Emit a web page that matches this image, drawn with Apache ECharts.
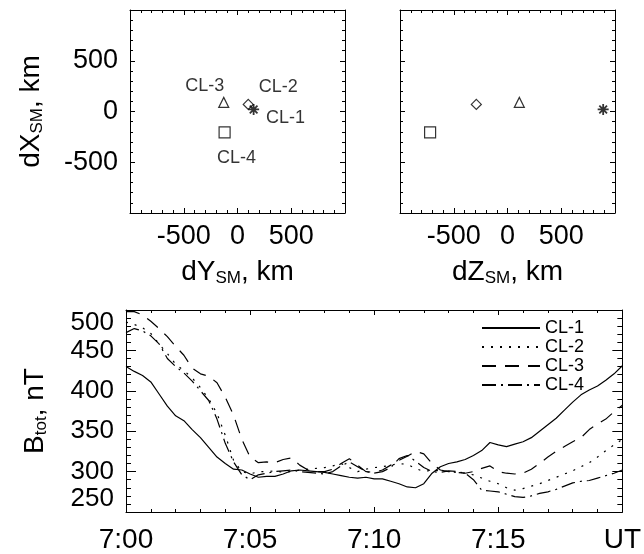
<!DOCTYPE html>
<html><head><meta charset="utf-8">
<script src="https://cdn.jsdelivr.net/npm/echarts@6/dist/echarts.min.js"></script>
<style>html,body{margin:0;padding:0;background:#fff}#c{width:644px;height:554px}</style>
</head><body><div id="c"></div>
<script>
// ---- data ----
const probes = ['CL-1', 'CL-2', 'CL-3', 'CL-4'];
const dY = [150, 100, -128, -120];
const dX = [20, 70, 90, -205];
const dZ = [890, -290, 110, -720];
const posTickLabels = ['-500', '0', '500'];
const timeTickLabels = ['7:00', '7:05', '7:10', '7:15', 'UT'];
const seconds = [0,20,40,60,80,100,120,140,160,180,200,220,240,260,280,300,320,340,360,380,400,420,440,460,480,500,520,540,560,580,600,620,640,660,680,700,720,740,760,780,800,820,840,860,880,900,920,940,960,980,1000,1020,1040,1060,1080,1100,1120,1140,1160,1180,1200];
const btotCL1 = [430,424,419,411,396,381,369,363,352,342,330,318,310,303,302,297,293,294,294,297,301,302,301,300,299,297,295,293,292,293,291,291,288,285,281,280,285,298,306,310,312,315,320,326,336,333,331,334,337,342,350,358,366,376,386,395,401,406,413,421,431];
const btotCL2 = [485,482,478,471,458,446,433,425,416,404,390,372,345,314,300,297,300,300,301,299,300,302,303,304,305,307,310,305,300,303,305,306,308,310,309,304,300,302,301,300,299,298,296,292,288,285,280,277,279,282,285,289,293,297,301,306,311,318,326,333,340];
const btotCL3 = [498,498,494,486,477,467,455,444,428,421,418,410,392,370,340,318,311,312,311,315,317,308,302,300,300,303,310,316,308,300,299,302,308,314,319,325,322,310,302,300,299,298,300,304,307,300,298,297,298,303,310,318,325,331,337,342,352,359,365,374,382];
const btotCL4 = [472,477,474,468,458,440,430,422,412,400,388,365,335,312,296,290,296,298,300,301,302,300,299,298,297,300,307,312,306,300,298,300,305,316,320,313,305,300,299,301,300,298,290,277,276,275,272,269,268,270,273,275,278,282,286,288,289,292,295,298,302];

// ---- styles ----
const FONT = '"Liberation Sans", Arial, Helvetica, sans-serif';
const symbols = ['path://M5,0L5,10M0,5L10,5M1.5,1.5L8.5,8.5M1.5,8.5L8.5,1.5', 'diamond', 'triangle', 'rect'];
const symbolSizes = [11, 10, 10, 11];
const symbolBorders = [1.8, 1.2, 1.2, 1.2];
const dashTypes = ['solid', [2, 7], [14, 9], [14, 5, 2, 5]];
const labelCfg = [
  {position: 'right', distance: 6, offset: [0, 9]},
  {position: 'top', distance: 6, offset: [30, 3]},
  {position: 'top', distance: 5, offset: [-19, 3]},
  {position: 'bottom', distance: 7, offset: [12, 4]}
];
const subRich = {
  s: {fontSize: 17, fontFamily: FONT, color: '#000', padding: [13, 0, 0, 0]}
};

function posAxis(extra) {
  return Object.assign({
    type: 'value', min: -1000, max: 1000, interval: 500,
    axisLine: {show: true, onZero: false, lineStyle: {color: '#000', width: 1}},
    axisTick: {show: true, inside: true, length: 5, lineStyle: {color: '#000'}},
    minorTick: {show: true, splitNumber: 5, length: 3, lineStyle: {color: '#000'}},
    splitLine: {show: false},
    axisLabel: {show: false}
  }, extra);
}
function posLabel() {
  return {show: true, fontSize: 27, fontFamily: FONT, color: '#000', margin: 12,
    formatter: v => (Math.abs(v) < 1000 ? posTickLabels[(v + 500) / 500] : '')};
}
const nameStyle = {fontSize: 28, fontFamily: FONT, color: '#000', rich: subRich};

const xAxes = [
  posAxis({gridIndex: 0, position: 'bottom', axisLabel: Object.assign(posLabel(), {margin: 10}),
    name: 'dY{s|SM}, km', nameLocation: 'middle', nameGap: 44, nameTextStyle: nameStyle}),
  posAxis({gridIndex: 0, position: 'top'}),
  posAxis({gridIndex: 1, position: 'bottom', axisLabel: Object.assign(posLabel(), {margin: 10}),
    name: 'dZ{s|SM}, km', nameLocation: 'middle', nameGap: 44, nameTextStyle: nameStyle}),
  posAxis({gridIndex: 1, position: 'top'}),
  {
    type: 'value', gridIndex: 2, position: 'bottom', min: 0, max: 1200, interval: 300,
    axisLine: {show: true, onZero: false, lineStyle: {color: '#000'}},
    axisTick: {show: true, inside: true, length: 5, lineStyle: {color: '#000'}},
    minorTick: {show: true, splitNumber: 5, length: 3, lineStyle: {color: '#000'}},
    splitLine: {show: false},
    axisLabel: {show: true, fontSize: 28, fontFamily: FONT, color: '#000', margin: 14,
      formatter: v => timeTickLabels[Math.round(v / 300)]}
  },
  {
    type: 'value', gridIndex: 2, position: 'top', min: 0, max: 1200, interval: 300,
    axisLine: {show: true, onZero: false, lineStyle: {color: '#000'}},
    axisTick: {show: true, inside: true, length: 5, lineStyle: {color: '#000'}},
    minorTick: {show: true, splitNumber: 5, length: 3, lineStyle: {color: '#000'}},
    splitLine: {show: false}, axisLabel: {show: false}
  }
];
const yAxes = [
  posAxis({gridIndex: 0, position: 'left', axisLabel: posLabel(),
    name: 'dX{s|SM}, km', nameLocation: 'middle', nameRotate: 90, nameGap: 84, nameTextStyle: nameStyle}),
  posAxis({gridIndex: 0, position: 'right'}),
  posAxis({gridIndex: 1, position: 'left'}),
  posAxis({gridIndex: 1, position: 'right'}),
  {
    type: 'value', gridIndex: 2, position: 'left', min: 250, max: 500, interval: 50,
    axisLine: {show: true, onZero: false, lineStyle: {color: '#000'}},
    axisTick: {show: true, inside: true, length: 10, lineStyle: {color: '#000'}},
    minorTick: {show: true, splitNumber: 5, length: 5, lineStyle: {color: '#000'}},
    splitLine: {show: false},
    axisLabel: {show: true, fontSize: 26, fontFamily: FONT, color: '#000', margin: 12,
      verticalAlignMinLabel: 'bottom', verticalAlignMaxLabel: 'top'},
    name: 'B{s|tot}, nT', nameLocation: 'middle', nameRotate: 90, nameGap: 76, nameTextStyle: nameStyle
  },
  {
    type: 'value', gridIndex: 2, position: 'right', min: 250, max: 500, interval: 50,
    axisLine: {show: true, onZero: false, lineStyle: {color: '#000'}},
    axisTick: {show: true, inside: true, length: 10, lineStyle: {color: '#000'}},
    minorTick: {show: true, splitNumber: 5, length: 5, lineStyle: {color: '#000'}},
    splitLine: {show: false}, axisLabel: {show: false}
  }
];

function scatterData(xs, withLabels) {
  return probes.map((p, i) => ({
    name: p,
    value: [xs[i], dX[i]],
    symbol: symbols[i],
    symbolSize: symbolSizes[i],
    itemStyle: {color: 'transparent', borderColor: '#000', borderWidth: symbolBorders[i]},
    label: withLabels ? Object.assign({show: true, formatter: p, fontSize: 18, fontFamily: FONT, color: '#000'}, labelCfg[i]) : {show: false}
  }));
}

const btots = [btotCL1, btotCL2, btotCL3, btotCL4];
const lineSeries = probes.map((p, i) => ({
  type: 'line', name: p, xAxisIndex: 4, yAxisIndex: 4,
  data: seconds.map((s, k) => [s, btots[i][k]]),
  symbol: 'none', showSymbol: false, smooth: false,
  lineStyle: {color: '#000', width: 1.2, type: dashTypes[i]},
  itemStyle: {color: '#000'},
  z: 3
}));

const chart = echarts.init(document.getElementById('c'), null, {renderer: 'canvas'});
chart.setOption({
  animation: false,
  backgroundColor: '#fff',
  textStyle: {fontFamily: FONT},
  grid: [
    {left: 130, top: 10, width: 215, height: 203},
    {left: 400, top: 10, width: 215, height: 203},
    {left: 126, top: 310, width: 502, height: 202}
  ],
  xAxis: xAxes,
  yAxis: yAxes,
  legend: {
    show: true, data: probes, orient: 'vertical', left: 476, top: 314,
    itemWidth: 58, itemHeight: 12, itemGap: 1,
    itemStyle: {opacity: 0},
    textStyle: {fontSize: 18, fontFamily: FONT, color: '#000'},
    inactiveColor: '#000', selectedMode: false
  },
  series: [
    {type: 'scatter', xAxisIndex: 0, yAxisIndex: 0, data: scatterData(dY, true), z: 4},
    {type: 'scatter', xAxisIndex: 2, yAxisIndex: 2, data: scatterData(dZ, false), z: 4}
  ].concat(lineSeries)
});
</script>
</body></html>
